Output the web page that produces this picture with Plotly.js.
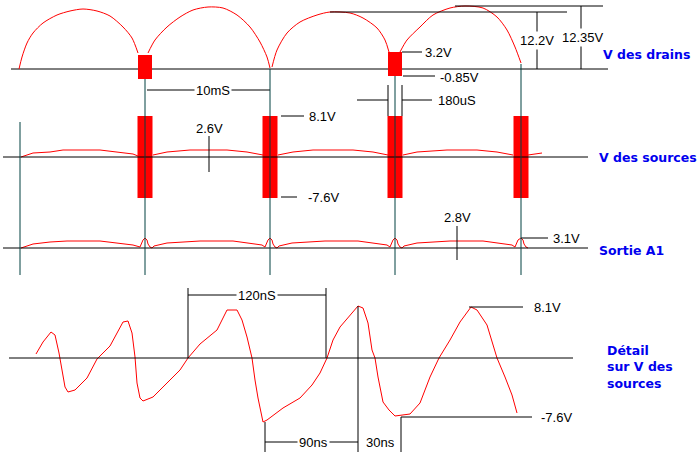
<!DOCTYPE html>
<html>
<head>
<meta charset="utf-8">
<script src="https://cdn.plot.ly/plotly-3.0.1.min.js"></script>
<style>html,body{margin:0;padding:0;background:#fff;}#chart{width:700px;height:458px;}</style>
</head>
<body>
<div id="chart"></div>
<script>
// ---- Drain voltage (full-wave arches) ----
const drainArch1X = [19,22,27,33,43,57,70,83,97,110,123,132,138];
const drainArch1Y = [69,57,43,33,23,15,11,9,11,16,27,38,53];
const drainArch2X = [148,155,167,180,193,208,223,237,250,260,267,270];
const drainArch2Y = [53,40,27,17,10,7,8,15,27,42,57,68];
const drainArch3X = [272,277,287,300,317,330,350,363,377,385,389];
const drainArch3Y = [67,50,33,22,15,12,13,18,28,40,52];
const drainArch4X = [400,407,420,433,450,465,483,497,507,515,521];
const drainArch4Y = [52,40,27,15,8,6,8,17,30,47,63];
const drainPulseX = [145, 395];
const drainPulseTop = [55, 52];
const drainPulseBottom = [79, 76];

// ---- Source voltage ----
const srcX = [21,33,50,63,100,117,133,138,null,153,167,190,227,247,263,null,278,293,313,353,373,388,null,403,417,447,477,497,513,null,528,535,542];
const srcY = [157,153,152,150,150,152,154,156,null,155,152,150,150,152,155,null,155,152,150,150,152,155,null,155,152,150,150,152,155,null,155,154,153];
const srcPulseX = [145, 270, 395, 521];
const srcPulseTop = 116;     // 8.1 V
const srcPulseBottom = 198;  // -7.6 V

// ---- Sortie A1 ----
const outX = [21,33,50,67,100,117,133,140,143,145,147,148,150,152,154,167,183,200,233,250,262,265,268,270,272,273,275,277,279,292,308,325,358,375,387,390,393,395,397,398,400,402,404,417,433,450,483,500,512,515,518,521,523,524,526,528];
const outY = [248,244,242,241,241,243,245,247,240,238,240,244,247,248,246,243,242,241,241,243,245,247,240,238,240,244,247,248,246,243,242,241,241,243,245,247,240,238,240,244,247,248,246,243,242,241,241,243,245,247,240,238,240,244,247,248];

// ---- Detail on source voltage ----
const detailX = [36,43,51,55,59,62,65,68,75,87,97,110,123,128,132,135,137,140,143,153,167,180,188,200,217,227,237,242,247,252,255,258,263,267,283,300,312,320,327,333,340,349,358,363,368,372,375,378,383,389,395,410,420,430,439,450,460,471,477,487,497,505,512,517];
const detailY = [354,342,332,335,353,370,387,392,390,378,359,346,322,321,333,357,383,398,401,397,383,370,358,344,330,310,310,320,337,358,380,398,422,420,408,398,385,373,358,340,327,316,306,308,323,350,358,377,402,410,416,414,403,377,358,340,322,307,310,325,358,377,395,413];

// ---- Reference lines and labels ----
const baselines = [[11,608,69],[3,588,157],[3,588,248],[9,573,358]];
const tealVerticals = [[20,122,275],[145,79,275],[270,69,275],[395,76,275],[521,64,275]];
const dimH = [[330,567,12],[455,603,6],[402,422,52],[403,435,76],[357,388,100],[402,432,100],[147,270,90],
              [281,304,116],[281,297,197],[521,548,238],
              [188,326,295],[265,358,442],[469,523,307],[401,532,417]];
const dimV = [[537,12,69],[581,6,69],[388,85,116],[402,85,116],[209,136,172],[457,226,260],
              [188,288,358],[326,288,358],[265,422,452],[358,306,452],[401,417,452]];
const labels = [
  ['12.2V',537,40,'center',true],['12.35V',583,37,'center',true],
  ['3.2V',423,52,'left',false],['-0.85V',438,77,'left',false],['180uS',436,100,'left',false],
  ['10mS',213,90,'center',true],['2.6V',209,128,'center',false],
  ['8.1V',307,116,'left',false],['-7.6V',306,197,'left',false],
  ['2.8V',457,217,'center',false],['3.1V',551,238,'left',false],
  ['120nS',257,295,'center',true],['90ns',313,442,'center',true],['30ns',380,442,'center',false],
  ['8.1V',532,307,'left',false],['-7.6V',539,417,'left',false]
];
const blueLabels = [['V des drains',601,54],['V des sources',597,157],['Sortie A1',597,250],
                    ['Détail<br>sur V des<br>sources',605,367]];

const traces = [];
function line(xs, ys, color, shape) {
  traces.push({x: xs, y: ys, mode: 'lines', type: 'scatter', hoverinfo: 'skip',
    line: {color: color, width: 1, shape: shape || 'linear', smoothing: 0.8}});
}
function rect(x0, x1, y0, y1) {
  traces.push({x: [x0,x1,x1,x0,x0], y: [y0,y0,y1,y1,y0], mode: 'lines', type: 'scatter',
    fill: 'toself', fillcolor: '#ff0000', line: {color: '#ff0000', width: 0}, hoverinfo: 'skip'});
}
const RED = '#ff0000', BLACK = '#000000', TEAL = '#004040';

// drain section
line([baselines[0][0], baselines[0][1]], [baselines[0][2], baselines[0][2]], BLACK);
[[drainArch1X,drainArch1Y],[drainArch2X,drainArch2Y],[drainArch3X,drainArch3Y],[drainArch4X,drainArch4Y]]
  .forEach(a => line(a[0], a[1], RED, 'spline'));
drainPulseX.forEach((c,i) => rect(c-7, c+7, drainPulseTop[i], drainPulseBottom[i]));
// source pulses beneath lines
srcPulseX.forEach(c => rect(c-7.5, c+7.5, srcPulseTop, srcPulseBottom));
line(srcX, srcY, RED);
line(outX, outY, RED);
line(detailX, detailY, RED);
baselines.slice(1).forEach(b => line([b[0], b[1]], [b[2], b[2]], BLACK));
dimH.forEach(h => line([h[0], h[1]], [h[2], h[2]], BLACK));
dimV.forEach(v => line([v[0], v[0]], [v[1], v[2]], BLACK));
tealVerticals.forEach(v => line([v[0], v[0]], [v[1], v[2]], TEAL));

const annotations = labels.map(l => ({
  text: l[0], x: l[1], y: l[2], xref: 'x', yref: 'y', showarrow: false,
  xanchor: l[3], yanchor: 'middle', bgcolor: l[4] ? '#ffffff' : 'rgba(0,0,0,0)',
  borderpad: 1,
  font: {family: 'Liberation Sans, Arial, sans-serif', size: 13, color: '#000000'}
})).concat(blueLabels.map(l => ({
  text: '<b>' + l[0] + '</b>', x: l[1], y: l[2], xref: 'x', yref: 'y', showarrow: false,
  xanchor: 'left', yanchor: 'middle', align: 'left',
  font: {family: 'DejaVu Sans, Verdana, sans-serif', size: 12.5, color: '#0000ee'}
})));

const layout = {
  width: 700, height: 458,
  margin: {l: 0, r: 0, t: 0, b: 0, pad: 0},
  paper_bgcolor: '#ffffff', plot_bgcolor: '#ffffff',
  showlegend: false,
  xaxis: {range: [0, 700], visible: false, fixedrange: true},
  yaxis: {range: [458, 0], visible: false, fixedrange: true},
  annotations: annotations
};
Plotly.newPlot('chart', traces, layout, {staticPlot: true, displayModeBar: false});
</script>
</body>
</html>
